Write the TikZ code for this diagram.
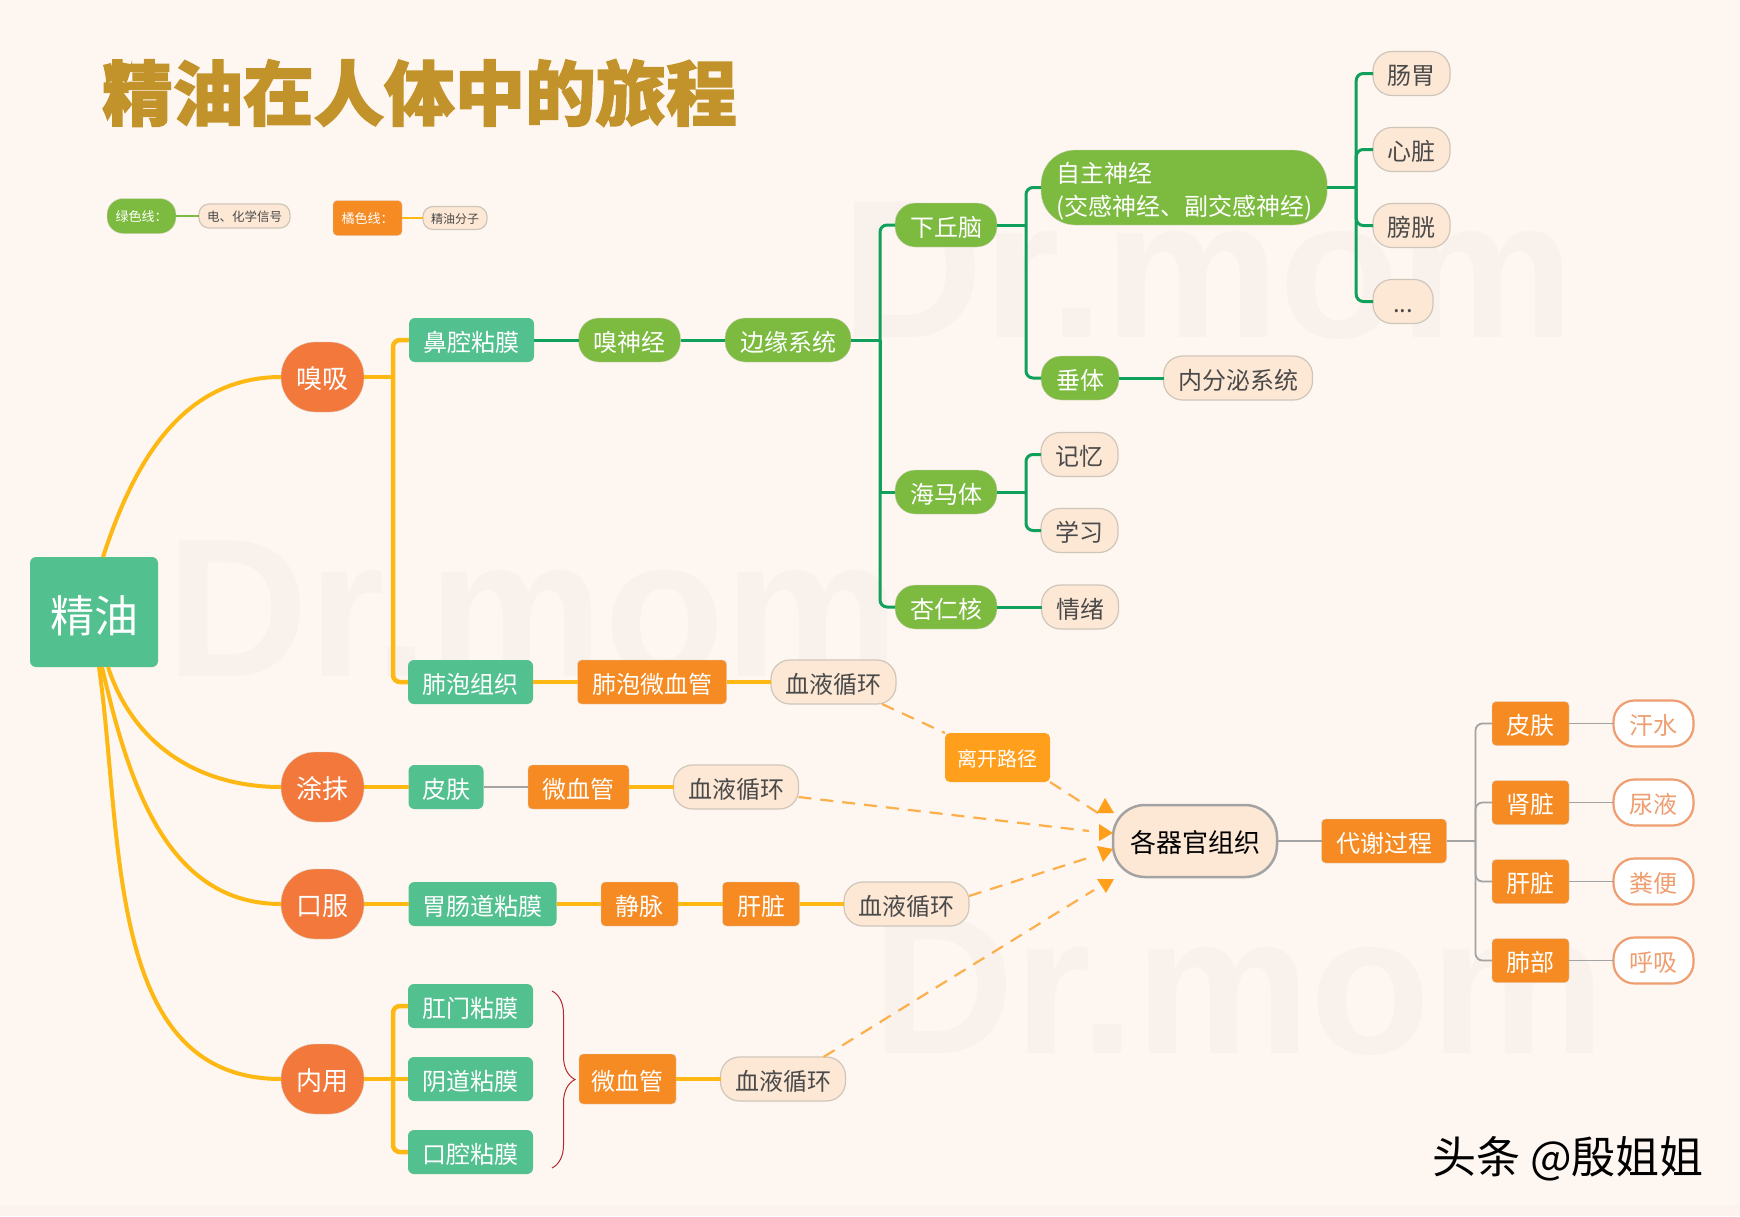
\documentclass[tikz,border=0pt]{standalone}
\usepackage{fontspec}
\setmainfont{Noto Sans CJK SC}
\newfontfamily\titlefont[FakeBold=2]{Noto Sans CJK SC}
\newfontfamily\markfont{Liberation Sans}
\usetikzlibrary{calc,chains,positioning,scopes,decorations.pathreplacing}
\definecolor{pagebg}{HTML}{FEF6F0}
\definecolor{bandbg}{HTML}{FCF3EE}
\definecolor{markgray}{HTML}{F9F2EC}
\definecolor{titlegold}{HTML}{C2932B}
\definecolor{tealbox}{HTML}{52C08F}
\definecolor{limebox}{HTML}{7CBB3F}
\definecolor{redbox}{HTML}{F2783C}
\definecolor{orangebox}{HTML}{F58B22}
\definecolor{peachbox}{HTML}{FDE8D5}
\definecolor{peachline}{HTML}{CFC6BA}
\definecolor{peachtext}{HTML}{4A4A4A}
\definecolor{pinkline}{HTML}{EE9E70}
\definecolor{oilline}{HTML}{FDB813}
\definecolor{signalline}{HTML}{0FA15B}
\definecolor{grayline}{HTML}{A3A3A3}
\definecolor{dashline}{HTML}{FBB04C}
\definecolor{headfill}{HTML}{FF9F1C}
\definecolor{bracered}{HTML}{B02A30}
\tikzset{
    textsize/.style = {
        font = \fontsize{#1}{#1}\selectfont,
        text height = #1*1.04pt,
        text depth = #1*0.12pt,
        },
    basebox/.style = {
        textsize = 24,
        inner xsep = 14.5pt,
        inner ysep = 0pt,
        outer sep = 0pt,
        minimum height = 44pt,
        text = white,
        },
    tealnode/.style = {
        basebox,
        fill = tealbox,
        rounded corners = 6pt,
        },
    orangenode/.style = {
        basebox,
        fill = orangebox,
        draw = peachline!70,
        rounded corners = 4pt,
        },
    limenode/.style = {
        basebox,
        inner xsep = 15pt,
        fill = limebox,
        draw = peachline!70,
        rounded corners = 20pt,
        },
    peachnode/.style = {
        basebox,
        fill = peachbox,
        draw = peachline,
        line width = 1.2pt,
        text = peachtext,
        rounded corners = 19pt,
        },
    pinknode/.style = {
        basebox,
        fill = white,
        draw = pinkline,
        line width = 2.2pt,
        text = pinkline,
        inner xsep = 16pt,
        minimum height = 46pt,
        rounded corners = 21pt,
        },
    rednode/.style = {
        basebox,
        textsize = 26,
        inner xsep = 15.5pt,
        minimum height = 70pt,
        fill = redbox,
        draw = peachline!70,
        rounded corners = 34pt,
        },
    oil link/.style = {
        draw = oilline,
        line width = 4.5pt,
        },
    root link/.style = {
        draw = oilline,
        line width = 4pt,
        },
    signal link/.style = {
        draw = signalline,
        line width = 3pt,
        },
    gray link/.style = {
        draw = grayline,
        line width = 1.8pt,
        },
    leave link/.style = {
        draw = dashline,
        line width = 2.2pt,
        dash pattern = on 13pt off 9pt,
        },
    arrow head/.style = {
        fill = headfill,
        },
    forked/.style = {
        rounded corners = 7pt,
        },
    watermark/.style = {
        font = \markfont\bfseries\fontsize{197}{197}\selectfont,
        text = markgray,
        anchor = base west,
        inner sep = 0pt,
        },
}
\begin{document}
\begin{tikzpicture}[
                x=1pt, y=-1pt,
                node distance = 44.5pt,
            ]
            \useasboundingbox (0,0) rectangle (1740,1216);
            \fill[pagebg] (0,0) rectangle (1740,1216);
            \fill[bandbg] (0,1205) rectangle (1740,1216);

            \node [watermark] (markleft) at (166,676) {Dr.mom};
            \node [watermark] (marktop) at (841,337) {Dr.mom};
            \node [watermark] (markright) at (872,1053) {Dr.mom};

            % title and legend
            \node [anchor=west, inner sep=0pt, text=titlegold, font=\titlefont\bfseries\fontsize{70.5}{70.5}\selectfont] (title) at (102,93) {精油在人体中的旅程};

            { [start chain=going right, node distance=23pt]
                \node [limenode, textsize=13, inner xsep=8pt, minimum width=69pt, minimum height=35pt, rounded corners=16pt, on chain, anchor=west] (greenkey) at (107,216) {绿色线：};
                \node [peachnode, textsize=12.5, inner xsep=8pt, minimum height=24pt, rounded corners=10pt, on chain] (signalkey) {电、化学信号};
            }
            { [start chain=going right, node distance=21pt]
                \node [orangenode, textsize=13, inner xsep=8pt, minimum width=69pt, minimum height=35pt, on chain, anchor=west] (orangekey) at (333,218) {橘色线：};
                \node [peachnode, textsize=12, inner xsep=8pt, minimum height=23pt, rounded corners=10pt, on chain] (oilkey) {精油分子};
            }
            \draw[gray link, draw=limebox] (greenkey) -- (signalkey);
            \draw[oil link, line width=2.5pt] (orangekey) -- (oilkey);

            % root
            \node [tealnode, textsize=44, inner xsep=20pt, minimum height=110pt] (jingyou) at (94,612) {精油};

            \node [rednode, anchor=west] (xiuxi) at (281,377) {嗅吸};
            \node [rednode, anchor=west] (neiyong) at (281,1079) {内用};

            \draw[root link] ([xshift=9pt]jingyou.north) [out=72, in=180] to (xiuxi.west);
            \draw[root link] ([xshift=5pt]jingyou.south) [out=-82, in=180] to (neiyong.west);

            % nose
            { [start chain=going right]
                \node [tealnode, on chain, anchor=west] (bikong) at (409,340) {鼻腔粘膜};
                \node [limenode, on chain] (xiushen) {嗅神经};
                \node [limenode, on chain] (bianyuan) {边缘系统};
            }
            \node [limenode, anchor=west] (haima) at (895,492) {海马体};
            { [start chain=going right]
                \node [limenode, on chain, anchor=west] (xingren) at (895,607) {杏仁核};
                \node [peachnode, on chain] (qingxu) {情绪};
            }
            \node [limenode, anchor=west] (xiaqiunao) at (895,225) {下丘脑};
            \node [limenode, anchor=west, align=left, text height={}, text depth={}, font=\fontsize{24}{33}\selectfont, minimum height=75pt, rounded corners=34pt] (zizhu) at (1041,187.5) {\rule{0pt}{28pt}自主神经\\(交感神经、副交感神经)};
            { [start chain=going right]
                \node [limenode, on chain, anchor=west] (chuiti) at (1041,378) {垂体};
                \node [peachnode, on chain] (neifenmi) {内分泌系统};
            }
            \node [peachnode, anchor=west] (changwei) at (1373,73.5) {肠胃};
            \node [peachnode, anchor=west] (xinzang) at (1373,149.5) {心脏};
            \node [peachnode, anchor=west] (pangguang) at (1373,225.5) {膀胱};
            \node [peachnode, anchor=west, minimum width=60pt, inner xsep=0pt] (dots) at (1373,301.5) {...};
            \node [peachnode, anchor=west] (jiyi) at (1041,454.5) {记忆};
            \node [peachnode, anchor=west] (xuexi) at (1041,530.5) {学习};

            \coordinate (xiuxifork) at ([xshift=29pt]xiuxi.east);
            \coordinate (bianyuanfork) at ([xshift=29pt]bianyuan.east);
            \coordinate (xiaqiufork) at ([xshift=29pt]xiaqiunao.east);
            \coordinate (haimafork) at ([xshift=29pt]haima.east);
            \coordinate (zizhufork) at ([xshift=29pt]zizhu.east);

            \draw[signal link] (bikong) -- (xiushen);
            \draw[signal link] (xiushen) -- (bianyuan);
            \draw[signal link] (bianyuan) -- (bianyuanfork);
            \draw[signal link, forked] (bianyuanfork) |- (xiaqiunao.west);
            \draw[signal link] (bianyuanfork) -- (haima.west -| bianyuanfork) -- (haima.west);
            \draw[signal link, forked] (bianyuanfork) |- (xingren.west);
            \draw[signal link] (xingren) -- (qingxu);
            \draw[signal link] (xiaqiunao) -- (xiaqiufork);
            \draw[signal link, forked] (xiaqiufork) |- (zizhu.west);
            \draw[signal link, forked] (xiaqiufork) |- (chuiti.west);
            \draw[signal link] (chuiti) -- (neifenmi);
            \draw[signal link] (zizhu) -- (zizhufork);
            \draw[signal link, forked] (zizhufork) |- (changwei.west);
            \draw[signal link, forked] (zizhufork) |- (xinzang.west);
            \draw[signal link, forked] (zizhufork) |- (pangguang.west);
            \draw[signal link, forked] (zizhufork) |- (dots.west);
            \draw[signal link] (haima) -- (haimafork);
            \draw[signal link, forked] (haimafork) |- (jiyi.west);
            \draw[signal link, forked] (haimafork) |- (xuexi.west);

            % lung
            { [start chain=going right]
                \node [tealnode, on chain, anchor=west] (feipao) at (408,682) {肺泡组织};
                \node [orangenode, on chain] (feipaowei) {肺泡微血管};
                \node [peachnode, on chain] (xueyea) {血液循环};
            }
            \draw[oil link] (xiuxi) -- (xiuxifork);
            \draw[oil link, forked] (xiuxifork) |- (bikong.west);
            \draw[oil link, forked] (xiuxifork) |- (feipao.west);
            \draw[oil link] (feipao) -- (feipaowei);
            \draw[oil link] (feipaowei) -- (xueyea);

            % skin
            { [start chain=going right]
                \node [rednode, on chain, anchor=west] (tumo) at (281,787) {涂抹};
                \node [tealnode, inner xsep=13.5pt, on chain] (pifu) {皮肤};
                \node [orangenode, on chain] (weixue) {微血管};
                \node [peachnode, on chain] (xueyeb) {血液循环};
            }
            \draw[root link] ([xshift=14pt]jingyou.south) [out=-72, in=180] to (tumo.west);
            \draw[oil link] (tumo) -- (pifu);
            \draw[gray link] (pifu) -- (weixue);
            \draw[oil link] (weixue) -- (xueyeb);

            % mouth
            { [start chain=going right]
                \node [rednode, on chain, anchor=west] (koufu) at (281,904) {口服};
                \node [tealnode, inner xsep=14pt, on chain] (weichang) {胃肠道粘膜};
                \node [orangenode, on chain] (jingmai) {静脉};
                \node [orangenode, on chain] (ganzang) {肝脏};
                \node [peachnode, on chain] (xueyec) {血液循环};
            }
            \draw[root link] ([xshift=8pt]jingyou.south) [out=-77, in=180] to (koufu.west);
            \draw[oil link] (koufu) -- (weichang);
            \draw[oil link] (weichang) -- (jingmai);
            \draw[oil link] (jingmai) -- (ganzang);
            \draw[oil link] (ganzang) -- (xueyec);

            % internal use
            \node [tealnode, anchor=west] (gangmen) at (408,1006) {肛门粘膜};
            \node [tealnode, anchor=west] (yindao) at (408,1079) {阴道粘膜};
            \node [tealnode, anchor=west] (kouqiang) at (408,1152) {口腔粘膜};
            { [start chain=going right]
                \node [orangenode, on chain, anchor=west, minimum height=50pt, inner xsep=12.5pt] (weixueb) at (579,1079) {微血管};
                \node [peachnode, on chain] (xueyed) {血液循环};
            }
            \coordinate (neiyongfork) at ([xshift=29pt]neiyong.east);
            \draw[oil link] (neiyong) -- (yindao);
            \draw[oil link, forked] (neiyongfork) |- (gangmen.west);
            \draw[oil link, forked] (neiyongfork) |- (kouqiang.west);
            \draw[oil link] (weixueb) -- (xueyed);
            \draw[bracered, line width=1pt, decorate, decoration={brace, amplitude=23pt}] ([xshift=19pt, yshift=-7pt]gangmen.north east) -- ([xshift=19pt, yshift=6pt]kouqiang.south east);

            % organs
            { [start chain=going right]
                \node [peachnode, textsize=26, inner xsep=17pt, minimum height=72pt, draw=grayline, line width=2.5pt, text=black, rounded corners=32pt, on chain, anchor=west] (qiguan) at (1113,841) {各器官组织};
                \node [orangenode, on chain] (daixie) {代谢过程};
            }
            \draw[gray link] (qiguan) -- (daixie);
            { [start chain=going right]
                \node [orangenode, on chain, anchor=west] (pifub) at (1492,723.5) {皮肤};
                \node [pinknode, on chain] (hanshui) {汗水};
            }
            { [start chain=going right]
                \node [orangenode, on chain, anchor=west] (shenzang) at (1492,802.5) {肾脏};
                \node [pinknode, on chain] (niaoye) {尿液};
            }
            { [start chain=going right]
                \node [orangenode, on chain, anchor=west] (ganzangb) at (1492,881.5) {肝脏};
                \node [pinknode, on chain] (fenbian) {粪便};
            }
            { [start chain=going right]
                \node [orangenode, on chain, anchor=west] (feibu) at (1492,960.5) {肺部};
                \node [pinknode, on chain] (huxi) {呼吸};
            }
            \coordinate (daixiefork) at ([xshift=29pt]daixie.east);
            \draw[gray link] (daixie) -- (daixiefork);
            \draw[gray link, forked] (daixiefork) |- (pifub.west);
            \draw[gray link, forked] (daixiefork) |- (shenzang.west);
            \draw[gray link, forked] (daixiefork) |- (ganzangb.west);
            \draw[gray link, forked] (daixiefork) |- (feibu.west);
            \draw[gray link] (pifub) -- (hanshui);
            \draw[gray link] (shenzang) -- (niaoye);
            \draw[gray link] (ganzangb) -- (fenbian);
            \draw[gray link] (feibu) -- (huxi);

            % way out
            \node [basebox, fill=headfill, rounded corners=5pt, textsize=20, inner xsep=12.5pt, minimum height=49pt] (likai) at (997.5,757.5) {离开路径};

            \coordinate (endtop) at (1098,813);
            \coordinate (endskin) at (1089,831);
            \coordinate (endliver) at (1091,857);
            \coordinate (endlow) at (1094,890);

            \draw[leave link] ([xshift=-14pt]xueyea.south east) -- (likai.north west);
            \draw[leave link] (likai.south east) -- (endtop);
            \draw[leave link] ([yshift=-10pt]xueyeb.east) -- (endskin);
            \draw[leave link] ([yshift=8pt]xueyec.east) -- (endliver);
            \draw[leave link] ([xshift=-22pt]xueyed.north east) -- (endlow);

            \fill[arrow head] (1105,798) -- (1114,813) -- (1097,813) -- cycle;
            \fill[arrow head] (1099,824) -- (1113,833) -- (1099,841) -- cycle;
            \fill[arrow head] (1097,846) -- (1113,849) -- (1103,862) -- cycle;
            \fill[arrow head] (1097,879) -- (1114,879) -- (1106,893) -- cycle;

            % signature
            \node [anchor=west, inner sep=0pt, font=\fontsize{44}{44}\selectfont] (author) at (1432,1159) {头条 @殷姐姐};
        \end{tikzpicture}
\end{document}
